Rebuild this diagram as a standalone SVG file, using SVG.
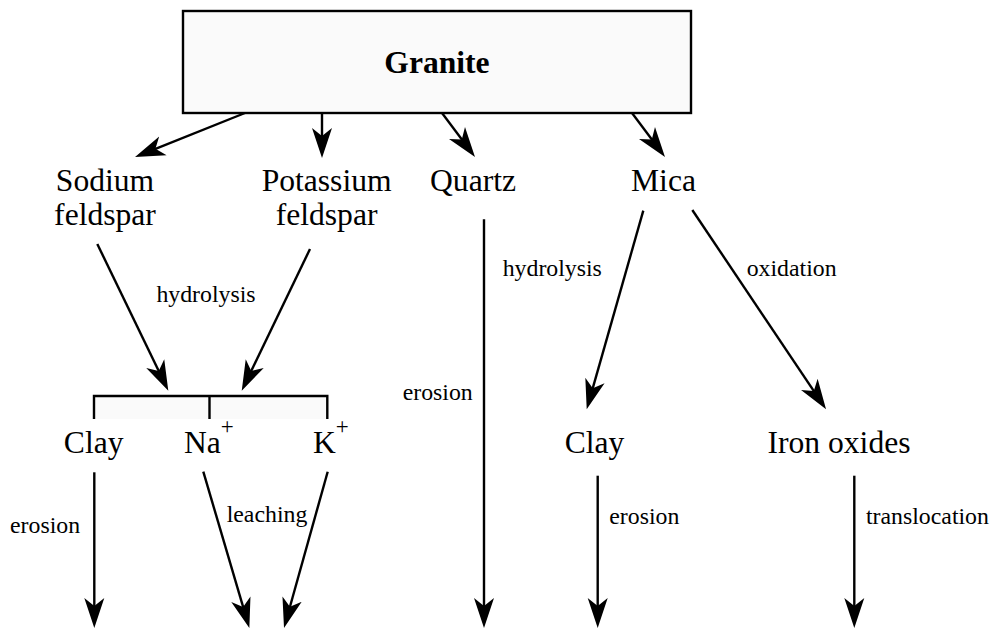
<svg xmlns="http://www.w3.org/2000/svg" width="991" height="628" viewBox="0 0 991 628">
<style>
text{font-family:"Liberation Serif","Times New Roman",serif;fill:#000}
.big{font-size:31.6px}
.sm{font-size:23.8px}
.c{text-anchor:middle}
.ln{stroke:#000;stroke-width:2.4;fill:none}
.arr{stroke:#000;stroke-width:2.4;fill:none;marker-end:url(#ah)}
</style>
<defs>
<marker id="ah" markerUnits="userSpaceOnUse" markerWidth="32" markerHeight="24" viewBox="0 -12 32 24" refX="10" refY="0" orient="auto">
<path d="M0,-10 L30,0 L0,10 L8,0 Z" fill="#000"/>
</marker>
</defs>
<rect width="991" height="628" fill="#fff"/>
<g id="granite">
<rect x="183" y="11" width="508" height="102" fill="#fafafa" stroke="#000" stroke-width="2.4"/>
<text x="437" y="72.5" class="big c" font-weight="bold">Granite</text>
</g>
<g id="sodium-feldspar">
<text x="105" y="191" class="big c">Sodium</text>
<text x="105" y="225" class="big c">feldspar</text>
</g>
<g id="potassium-feldspar">
<text x="326.6" y="191" class="big c">Potassium</text>
<text x="326.6" y="225" class="big c">feldspar</text>
</g>
<g id="quartz"><text x="473" y="190.7" class="big c">Quartz</text></g>
<g id="mica"><text x="663.5" y="190.7" class="big c">Mica</text></g>
<g id="bracket">
<rect x="94" y="396" width="233.3" height="23" fill="#fafafa"/>
<path class="ln" d="M94,419 V396 H327.3 V419 M209.5,396 V419"/>
</g>
<g id="clay-left"><text x="93.7" y="453.3" class="big c">Clay</text></g>
<g id="na"><text x="184" y="453.3" class="big">Na<tspan font-size="23" dy="-19">+</tspan></text></g>
<g id="k"><text x="313" y="453.3" class="big">K<tspan font-size="23" dy="-19">+</tspan></text></g>
<g id="clay-right"><text x="594.5" y="453.3" class="big c">Clay</text></g>
<g id="iron-oxides"><text x="839" y="453.3" class="big c">Iron oxides</text></g>
<g id="connectors">
<line class="arr" x1="245" y1="113" x2="153.6" y2="149.6"/>
<line class="arr" x1="322" y1="113" x2="322" y2="138"/>
<line class="arr" x1="442" y1="113" x2="463" y2="141"/>
<line class="arr" x1="632" y1="113" x2="653" y2="141"/>
<line class="arr" x1="97.3" y1="244" x2="159.6" y2="372.7"/>
<line class="arr" x1="310" y1="249" x2="250.4" y2="372.7"/>
<line class="arr" x1="484" y1="219.3" x2="484" y2="608"/>
<line class="arr" x1="643.3" y1="210.7" x2="592.2" y2="390.1"/>
<line class="arr" x1="692.3" y1="210" x2="814.9" y2="392.7"/>
<line class="arr" x1="94.3" y1="472.3" x2="94.3" y2="608"/>
<line class="arr" x1="203.3" y1="471.7" x2="243.7" y2="608.8"/>
<line class="arr" x1="327.7" y1="471.7" x2="289.4" y2="608.7"/>
<line class="arr" x1="597.7" y1="475.7" x2="597.7" y2="608"/>
<line class="arr" x1="854.3" y1="475.7" x2="854.3" y2="608"/>
</g>
<g id="labels">
<text x="206" y="302" class="sm c">hydrolysis</text>
<text x="502.7" y="276" class="sm">hydrolysis</text>
<text x="402.7" y="400" class="sm">erosion</text>
<text x="746.7" y="276" class="sm">oxidation</text>
<text x="10" y="533.3" class="sm">erosion</text>
<text x="226.7" y="521.7" class="sm">leaching</text>
<text x="609.3" y="524.3" class="sm">erosion</text>
<text x="866" y="524" class="sm">translocation</text>
</g>
</svg>
